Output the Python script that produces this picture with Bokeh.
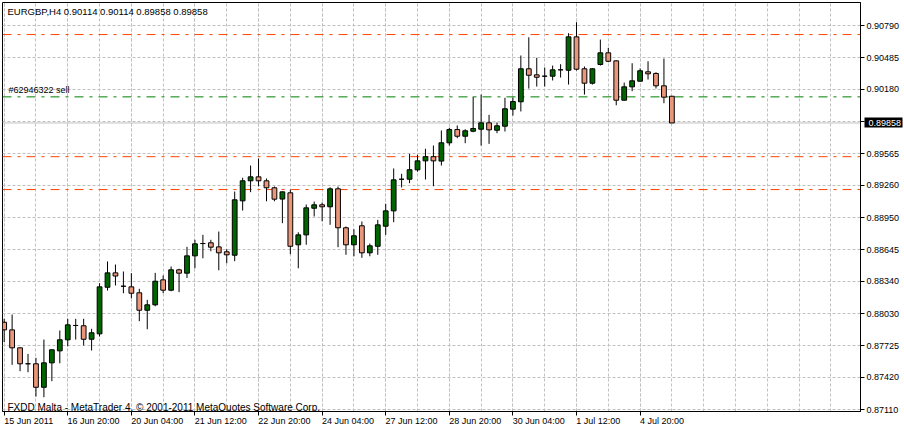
from bokeh.plotting import figure
from bokeh.models import FixedTicker, Span, Label, Range1d, ColumnDataSource, LinearAxis
from bokeh.embed import file_html
from bokeh.resources import INLINE

FONT = "Liberation Sans"

# ---- data (EURGBP, H4) ----
opens = [0.87949, 0.87876, 0.87704, 0.87551, 0.87551, 0.87326, 0.87560, 0.87675, 0.87781, 0.87918,
         0.87915, 0.87786, 0.87838, 0.88284, 0.88422, 0.88294, 0.88288, 0.88231, 0.88064, 0.88116,
         0.88355, 0.88256, 0.88451, 0.88419, 0.88585, 0.88703, 0.88710, 0.88671, 0.88624, 0.88591,
         0.89112, 0.89304, 0.89342, 0.89304, 0.89237, 0.89129, 0.89189, 0.88691, 0.88786, 0.89041,
         0.89074, 0.89055, 0.89227, 0.88854, 0.88691, 0.88873, 0.88614, 0.88677, 0.88869, 0.89016,
         0.89319, 0.89319, 0.89409, 0.89495, 0.89535, 0.89493, 0.89668, 0.89795, 0.89731, 0.89779,
         0.89798, 0.89859, 0.89788, 0.89827, 0.89990, 0.90061, 0.90377, 0.90319, 0.90306, 0.90306,
         0.90367, 0.90363, 0.90683, 0.90377, 0.90239, 0.90418, 0.90530, 0.90453, 0.90076, 0.90204,
         0.90258, 0.90348, 0.90332, 0.90214, 0.90114]
highs = [0.87982, 0.88023, 0.87706, 0.87646, 0.87608, 0.87783, 0.87688, 0.87870, 0.87982, 0.87982,
         0.87982, 0.87886, 0.88323, 0.88531, 0.88502, 0.88435, 0.88419, 0.88269, 0.88164, 0.88422,
         0.88397, 0.88483, 0.88461, 0.88671, 0.88739, 0.88786, 0.88739, 0.88818, 0.88649, 0.89201,
         0.89333, 0.89450, 0.89517, 0.89326, 0.89249, 0.89200, 0.89218, 0.88811, 0.89077, 0.89105,
         0.89096, 0.89242, 0.89249, 0.88866, 0.88840, 0.88914, 0.88703, 0.88930, 0.89083, 0.89422,
         0.89371, 0.89562, 0.89553, 0.89611, 0.89642, 0.89786, 0.89812, 0.89834, 0.89798, 0.90111,
         0.90130, 0.89936, 0.89862, 0.90099, 0.90102, 0.90504, 0.90679, 0.90482, 0.90389, 0.90408,
         0.90421, 0.90718, 0.90823, 0.90399, 0.90382, 0.90657, 0.90578, 0.90459, 0.90245, 0.90430,
         0.90380, 0.90449, 0.90344, 0.90475, 0.90114]
lows = [0.87758, 0.87541, 0.87480, 0.87470, 0.87237, 0.87231, 0.87384, 0.87556, 0.87719, 0.87783,
        0.87726, 0.87678, 0.87812, 0.88253, 0.88301, 0.88227, 0.88179, 0.87959, 0.87882, 0.88102,
        0.88227, 0.88246, 0.88237, 0.88373, 0.88466, 0.88562, 0.88629, 0.88447, 0.88514, 0.88534,
        0.89019, 0.89195, 0.89252, 0.89108, 0.89108, 0.88898, 0.88601, 0.88466, 0.88691, 0.88962,
        0.88917, 0.88882, 0.88668, 0.88595, 0.88581, 0.88566, 0.88581, 0.88595, 0.88786, 0.88907,
        0.89240, 0.89281, 0.89391, 0.89316, 0.89252, 0.89450, 0.89642, 0.89712, 0.89664, 0.89769,
        0.89642, 0.89658, 0.89760, 0.89776, 0.89929, 0.89968, 0.90188, 0.90207, 0.90207, 0.90265,
        0.90293, 0.90226, 0.90360, 0.90130, 0.90226, 0.90408, 0.90440, 0.90028, 0.90074, 0.90162,
        0.90256, 0.90274, 0.90188, 0.90047, 0.89858]
closes = [0.87876, 0.87704, 0.87551, 0.87551, 0.87326, 0.87560, 0.87685, 0.87781, 0.87924, 0.87918,
          0.87786, 0.87848, 0.88288, 0.88422, 0.88392, 0.88294, 0.88227, 0.88064, 0.88116, 0.88342,
          0.88256, 0.88451, 0.88419, 0.88585, 0.88700, 0.88703, 0.88668, 0.88614, 0.88595, 0.89122,
          0.89304, 0.89342, 0.89304, 0.89237, 0.89128, 0.89198, 0.88677, 0.88786, 0.89045, 0.89074,
          0.89055, 0.89227, 0.88854, 0.88691, 0.88777, 0.88614, 0.88681, 0.88882, 0.89016, 0.89313,
          0.89319, 0.89410, 0.89495, 0.89535, 0.89495, 0.89668, 0.89795, 0.89731, 0.89783, 0.89805,
          0.89859, 0.89792, 0.89831, 0.89994, 0.90063, 0.90377, 0.90315, 0.90296, 0.90306, 0.90367,
          0.90367, 0.90683, 0.90373, 0.90239, 0.90377, 0.90530, 0.90449, 0.90076, 0.90204, 0.90262,
          0.90358, 0.90329, 0.90214, 0.90105, 0.89858]

date_tick_bars = [0, 8, 16, 24, 32, 40, 48, 56, 64, 72, 80]
date_tick_labels = ["15 Jun 2011", "16 Jun 20:00", "20 Jun 04:00", "21 Jun 12:00", "22 Jun 20:00",
                    "24 Jun 04:00", "27 Jun 12:00", "28 Jun 20:00", "30 Jun 04:00", "1 Jul 12:00",
                    "4 Jul 20:00"]
grid_bars = list(range(0, 108, 4))

price_ticks = [0.90790, 0.90485, 0.90180, 0.89870, 0.89565, 0.89260, 0.88950, 0.88645,
               0.88340, 0.88030, 0.87725, 0.87420, 0.87110]
hidden_price_tick = 0.89870

title_text = "EURGBP,H4  0.90114 0.90114 0.89858 0.89858"
footer_text = "FXDD Malta - MetaTrader 4, \u00a9 2001-2011 MetaQuotes Software Corp."
order_text = "#62946322 sell"

last_price = 0.89858
order_price = 0.90108
level_lines = [0.90705, 0.89535, 0.89220]

# ---- layout helpers ----
BAR_PX = 8.0
LABEL_PX = 9.0
_cw = {" ": 0.278, ":": 0.278, "J": 0.5, "u": 0.556, "n": 0.556, "l": 0.222, ".": 0.278}


def text_width(s):
    return sum(_cw.get(ch, 0.556) for ch in s) * LABEL_PX


# ---- figure ----
bars = list(range(len(opens)))
bull = "#006400"
bear = "#E9967A"
src = ColumnDataSource(dict(
    x=bars,
    top=[max(o, c) for o, c in zip(opens, closes)],
    bottom=[min(o, c) for o, c in zip(opens, closes)],
    high=highs,
    low=lows,
    color=[bull if c > o else bear for o, c in zip(opens, closes)],
))

W, H = 904, 428
left_px, right_px = 2, 38.5
x0 = -0.21
x1 = x0 + (W - left_px - right_px) / BAR_PX

p = figure(width=W, height=H, output_backend="svg", toolbar_location=None,
           y_axis_location="right",
           x_range=Range1d(x0, x1), y_range=Range1d(0.87094, 0.91012),
           min_border_left=left_px, min_border_top=2, min_border_right=38, min_border_bottom=0,
           background_fill_color="white", border_fill_color="white")
p.outline_line_color = "black"
p.outline_line_width = 1

# x axis: tick marks + grid
p.xaxis.ticker = FixedTicker(ticks=date_tick_bars, minor_ticks=grid_bars)
p.xaxis.major_label_overrides = {b: "" for b in date_tick_bars}
p.xaxis.major_tick_out = 4
p.xaxis.major_tick_in = 0
p.xaxis.minor_tick_line_color = None
p.xaxis.axis_line_color = "black"
p.xaxis.major_tick_line_color = "black"
p.xaxis.major_label_text_font_size = "1px"
p.xaxis.major_label_standoff = 0

# x axis: left-aligned date labels (MetaTrader style: text starts at its tick)
label_pos = [b + text_width(t) / 2 / BAR_PX for b, t in zip(date_tick_bars, date_tick_labels)]
lab_axis = LinearAxis(ticker=FixedTicker(ticks=label_pos),
                      major_label_overrides={pos: t for pos, t in zip(label_pos, date_tick_labels)},
                      major_tick_line_color=None, minor_tick_line_color=None, axis_line_color=None,
                      major_tick_out=0, major_tick_in=0, major_label_standoff=0,
                      major_label_text_font=FONT, major_label_text_font_size="9px",
                      major_label_text_color="black")
p.add_layout(lab_axis, "below")

# y axis
p.yaxis.ticker = FixedTicker(ticks=price_ticks)
p.yaxis.major_label_overrides = {v: ("" if v == hidden_price_tick else f"{v:.5f}") for v in price_ticks}
p.yaxis.major_tick_out = 4
p.yaxis.major_tick_in = 0
p.yaxis.minor_tick_line_color = None
p.yaxis.axis_line_color = "black"
p.yaxis.major_tick_line_color = "black"
p.yaxis.major_label_text_font = FONT
p.yaxis.major_label_text_font_size = "9px"
p.yaxis.major_label_text_color = "black"
p.yaxis.major_label_standoff = 2

# current-price marker on the price scale: a thick inward tick (black box) with a white label
last_txt = f"{last_price:.5f}"
box_axis = LinearAxis(ticker=FixedTicker(ticks=[last_price]),
                      major_label_overrides={last_price: last_txt},
                      axis_line_color=None, minor_tick_line_color=None,
                      major_tick_in=38, major_tick_out=0,
                      major_tick_line_color="black", major_tick_line_width=10,
                      major_label_standoff=-int(round(text_width(last_txt))) - 1,
                      major_label_text_font=FONT, major_label_text_font_size="9px",
                      major_label_text_color="white")
p.add_layout(box_axis, "right")

# grids
for g in (p.xgrid, p.ygrid):
    g.grid_line_color = "#c0c0c0"
    g.grid_line_dash = "3 2"
    g.grid_line_width = 1
p.xgrid.minor_grid_line_color = "#c0c0c0"
p.xgrid.minor_grid_line_dash = "3 2"

# horizontal levels
for lv in level_lines:
    p.add_layout(Span(location=lv, dimension="width", line_color="#FF4500",
                      line_dash="9 6 3 6", line_width=1, level="underlay"))
p.add_layout(Span(location=order_price, dimension="width", line_color="#008000",
                  line_dash="9 6 3 6", line_width=1, level="underlay"))
p.add_layout(Span(location=last_price, dimension="width", line_color="#c0c0c0",
                  line_width=1, level="underlay"))

# candles
p.segment(x0="x", y0="high", x1="x", y1="low", source=src, line_color="black", line_width=1)
p.vbar(x="x", width=0.6, top="top", bottom="bottom", source=src,
       fill_color="color", line_color="black", line_width=1)

# texts
p.add_layout(Label(x=5, x_units="screen", y=0.90930, text=title_text, text_font=FONT,
                   text_font_size="9.5px", text_color="black", text_baseline="middle"))
p.add_layout(Label(x=6, x_units="screen", y=order_price, y_offset=2, text=order_text,
                   text_font=FONT, text_font_size="9px", text_color="black",
                   text_baseline="bottom"))
p.add_layout(Label(x=5, x_units="screen", y=0.87094, y_offset=4, text=footer_text,
                   text_font=FONT, text_font_size="10px", text_color="black",
                   text_baseline="alphabetic"))

open("out.html", "w").write(file_html(p, INLINE))
